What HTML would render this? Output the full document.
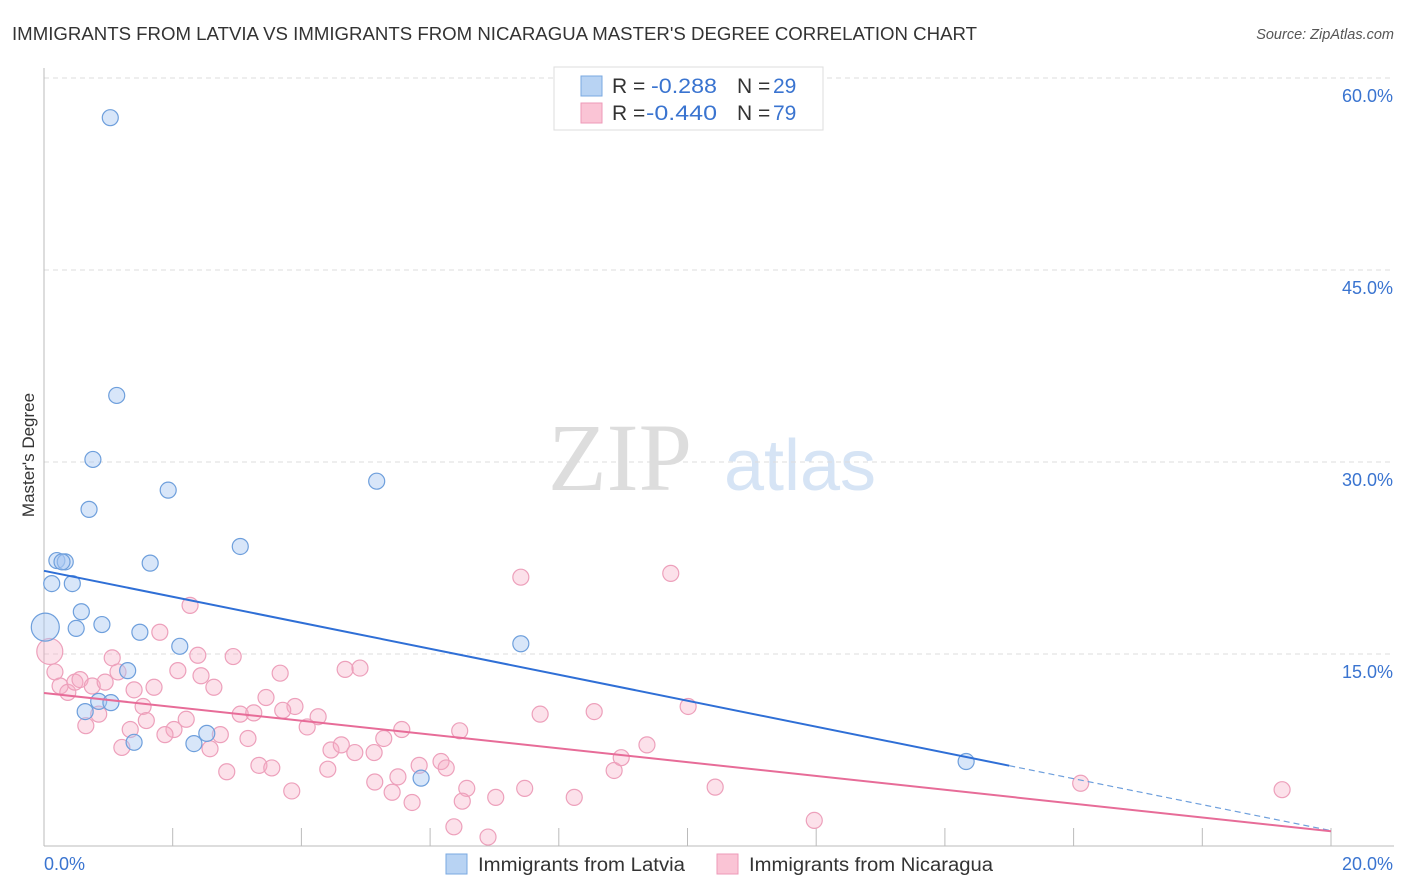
<!DOCTYPE html>
<html><head><meta charset="utf-8">
<style>
body{margin:0;background:#fff;font-family:"Liberation Sans",sans-serif;}
#wrap{position:relative;width:1406px;height:892px;overflow:hidden;}
</style></head>
<body>
<div id="wrap">
<svg id="chart" width="1406" height="892" xmlns="http://www.w3.org/2000/svg">
<text x="12" y="40" font-size="18" fill="#333" textLength="965" lengthAdjust="spacingAndGlyphs">IMMIGRANTS FROM LATVIA VS IMMIGRANTS FROM NICARAGUA MASTER'S DEGREE CORRELATION CHART</text>
<text x="1394" y="39" font-size="14.5" fill="#555" font-style="italic" text-anchor="end">Source: ZipAtlas.com</text>
<text x="620" y="490" font-size="96" fill="#ddd" font-family="Liberation Serif,serif" text-anchor="middle">ZIP</text>
<text x="800" y="490" font-size="72" fill="#d6e4f5" text-anchor="middle">atlas</text>
<text transform="translate(34,455) rotate(-90)" font-size="17" fill="#333" text-anchor="middle">Master's Degree</text>
<g id="grid"></g><g id="ticks"></g><g id="pts"></g><g id="lines"></g>
<rect x="554" y="67" width="269" height="63" fill="#fff" stroke="#ddd"/>
<rect x="581" y="76" width="21" height="20" fill="#b8d3f3" stroke="#7aa8e0"/>
<rect x="581" y="103" width="21" height="20" fill="#fac4d5" stroke="#ee9ab8"/>
<g font-size="21">
<text x="612" y="93" fill="#333">R =</text>
<text x="651" y="93" fill="#3a74d0" textLength="66" lengthAdjust="spacingAndGlyphs">-0.288</text>
<text x="737" y="93" fill="#333">N =</text>
<text x="773" y="93" fill="#3a74d0">29</text>
</g>
<g font-size="21">
<text x="612" y="120" fill="#333">R =</text>
<text x="646" y="120" fill="#3a74d0" textLength="71" lengthAdjust="spacingAndGlyphs">-0.440</text>
<text x="737" y="120" fill="#333">N =</text>
<text x="773" y="120" fill="#3a74d0">79</text>
</g>
<rect x="446" y="854" width="21" height="20" fill="#b8d3f3" stroke="#7aa8e0"/>
<text x="478" y="871" font-size="19" fill="#333" textLength="207" lengthAdjust="spacingAndGlyphs">Immigrants from Latvia</text>
<rect x="717" y="854" width="21" height="20" fill="#fac4d5" stroke="#ee9ab8"/>
<text x="749" y="871" font-size="19" fill="#333" textLength="244" lengthAdjust="spacingAndGlyphs">Immigrants from Nicaragua</text>
</svg>
</div>
<script>
const yTicks=[15,30,45,60];
const xTickLabels=["0.0%","20.0%"];
const latviaX=[1.03,1.13,0.76,1.93,0.70,5.17,3.05,0.20,0.33,1.65,0.12,0.44,0.58,0.02,0.5,0.9,1.49,2.11,7.41,1.3,0.85,1.04,0.64,2.53,1.4,2.33,5.86,14.33,0.28];
const latviaY=[56.9,35.2,30.2,27.8,26.3,28.5,23.4,22.3,22.2,22.1,20.5,20.5,18.3,17.1,17.0,17.3,16.7,15.6,15.8,13.7,11.3,11.2,10.5,8.8,8.1,8.0,5.3,6.6,22.2];
const latviaR=[8,8,8,8,8,8,8,8,8,8,8,8,8,14,8,8,8,8,8,8,8,8,8,8,8,8,8,8,8];
const nicX=[0.09,0.17,0.25,0.37,0.48,0.56,0.75,0.95,1.06,1.15,1.40,1.71,1.80,2.08,2.27,2.39,2.44,2.64,2.94,3.67,3.45,3.90,3.05,3.26,3.71,4.26,4.09,4.68,4.91,5.56,6.46,7.71,8.55,10.01,7.41,9.74,0.85,1.54,0.65,1.59,2.21,2.02,1.34,1.88,1.21,2.58,2.74,3.17,2.84,3.34,3.54,4.41,4.46,4.62,4.83,5.13,5.28,5.14,5.41,5.50,5.72,5.83,6.17,6.25,6.57,6.50,7.02,7.47,8.24,8.86,8.97,9.37,10.43,3.85,6.37,6.90,11.97,16.11,19.24];
const nicY=[15.2,13.6,12.5,12.0,12.8,13.0,12.5,12.8,14.7,13.6,12.2,12.4,16.7,13.7,18.8,14.9,13.3,12.4,14.8,13.5,11.6,10.9,10.3,10.4,10.6,10.1,9.3,13.8,13.9,9.1,9.0,10.3,10.5,10.9,21.0,21.3,10.3,10.9,9.4,9.8,9.9,9.1,9.1,8.7,7.7,7.6,8.7,8.4,5.8,6.3,6.1,6.0,7.5,7.9,7.3,7.3,8.4,5.0,4.2,5.4,3.4,6.3,6.6,6.1,4.5,3.5,3.8,4.5,3.8,5.9,6.9,7.9,4.6,4.3,1.5,0.7,2.0,4.9,4.4];
const trendLatvia=[21.5,-1.015];
const trendNic=[11.95,-0.54];
const X0=44,X1=1331,Y0=846,PPY=12.8;
const sx=v=>X0+(X1-X0)*v/20, sy=v=>Y0-v*PPY;
const NS="http://www.w3.org/2000/svg";
function mk(tag,attrs,parent){const e=document.createElementNS(NS,tag);for(const k in attrs)e.setAttribute(k,attrs[k]);parent.appendChild(e);return e;}
const grid=document.getElementById('grid'),ticks=document.getElementById('ticks'),pts=document.getElementById('pts'),lines=document.getElementById('lines');
yTicks.forEach(t=>{
 const l=mk('line',{x1:X0,x2:1394,y1:sy(t),y2:sy(t),stroke:'#ddd','stroke-dasharray':'5,4'},grid);
 
 
 const tx=mk('text',{x:1393,y:sy(t)+24,'font-size':18,fill:'#3a74d0','text-anchor':'end'},ticks);
 tx.textContent=t.toFixed(1)+'%';
 
 
});
const ya=mk('line',{x1:X0,x2:X0,y1:68,y2:846,stroke:'#bbb'},ticks);


const xa=mk('line',{x1:X0,x2:1394,y1:846,y2:846,stroke:'#bbb'},ticks);


for(let i=0;i<=10;i++){
 const t=mk('line',{x1:sx(i*2),x2:sx(i*2),y1:828,y2:846,stroke:'#bbb'},ticks);
 
 
}
xTickLabels.forEach((s,i)=>{
 const t=mk('text',{x:i?1393:44,y:870,'font-size':18,fill:'#3a74d0','text-anchor':i?'end':'start'},ticks);
 t.textContent=s;
 
 
});
nicX.forEach((x,i)=>{
 const c=mk('circle',{cx:sx(x),cy:sy(nicY[i]),r:i==0?13:8,fill:'rgba(246,170,196,0.35)',stroke:'#eda0bb','stroke-width':1.2},pts);
 
 
});
latviaX.forEach((x,i)=>{
 const c=mk('circle',{cx:sx(x),cy:sy(latviaY[i]),r:latviaR[i],fill:'rgba(168,200,242,0.45)',stroke:'#6e9fdc','stroke-width':1.2},pts);
 
 
});
const f=(t,x)=>t[0]+t[1]*x;
const bl=mk('line',{x1:sx(0),y1:sy(f(trendLatvia,0)),x2:sx(15),y2:sy(f(trendLatvia,15)),stroke:'#2f6fd6','stroke-width':2},lines);


const bd=mk('line',{x1:sx(15),y1:sy(f(trendLatvia,15)),x2:sx(20),y2:sy(f(trendLatvia,20)),stroke:'#6e9fdc','stroke-width':1.2,'stroke-dasharray':'6,4'},lines);


const pl=mk('line',{x1:sx(0),y1:sy(f(trendNic,0)),x2:sx(20),y2:sy(f(trendNic,20)),stroke:'#e76c98','stroke-width':2},lines);


</script>
</body></html>
